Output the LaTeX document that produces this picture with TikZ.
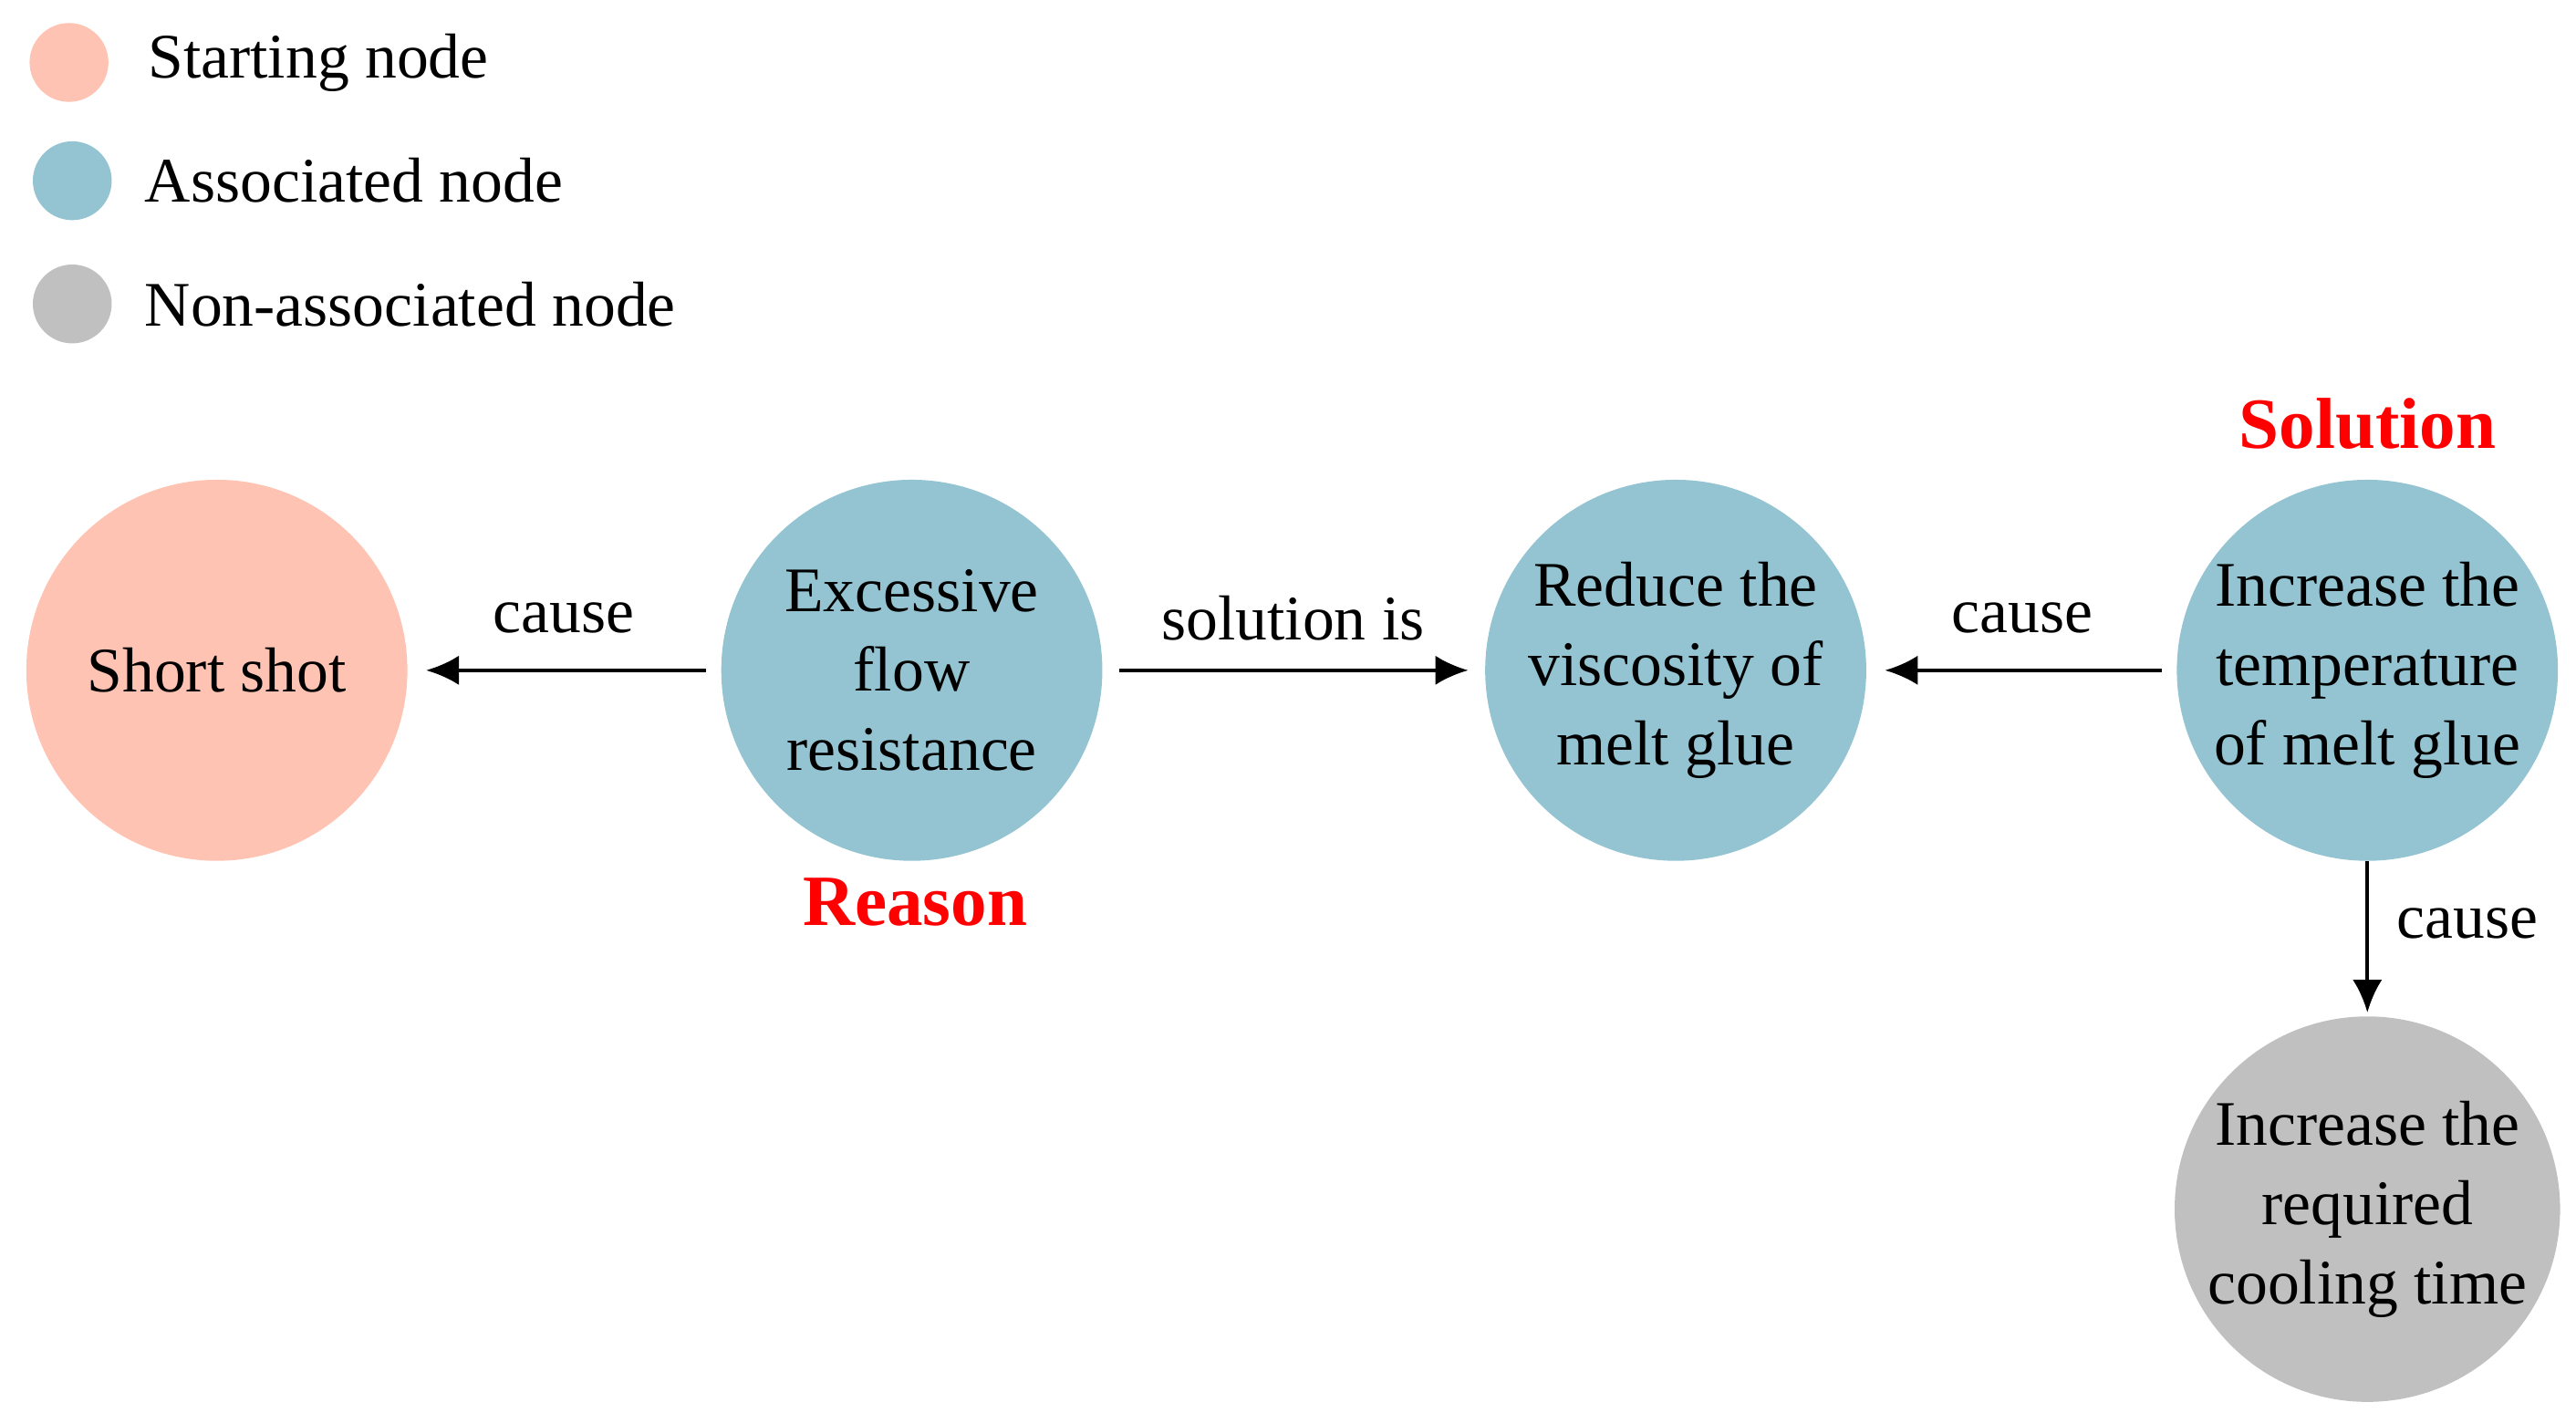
\documentclass[tikz,border=0pt]{standalone}
\usepackage{fontspec}
\setmainfont{Liberation Serif}
\usetikzlibrary{arrows.meta}
\definecolor{pinkc}{HTML}{FFC3B3}
\definecolor{bluec}{HTML}{94C4D2}
\definecolor{grayc}{HTML}{C0C0C0}
\begin{document}
\begin{tikzpicture}[x=0.02cm,y=-0.02cm,
  big/.style={circle,minimum size=4.64cm,inner sep=0pt,align=center,font=\fontsize{22}{27.5}\selectfont},
  leg/.style={circle,minimum size=0.96cm,inner sep=0pt},
  legt/.style={anchor=west,font=\fontsize{22}{27}\selectfont},
  lab/.style={font=\fontsize{22}{27}\selectfont},
  red/.style={text=red,font=\fontsize{25}{30}\selectfont\bfseries},
  arr/.style={-{Latex[length=0.4cm,width=0.36cm]},line width=1.3pt}]
\useasboundingbox (0,0) rectangle (1568,866);
\node[leg,fill=pinkc] (l1) at (42,38) {};
\node[leg,fill=bluec] (l2) at (44,110) {};
\node[leg,fill=grayc] (l3) at (44,185) {};
\node[legt] (t1) at (84,38) {Starting node};
\node[legt] (t2) at (82,110) {Associated node};
\node[legt] (t3) at (82,185) {Non-associated node};
\node[big,fill=pinkc] (a) at (132,408) {Short shot};
\node[big,fill=bluec] (b) at (555,408) {Excessive\\flow\\resistance};
\node[big,fill=bluec] (c) at (1020,408) {Reduce the\\viscosity of\\melt glue};
\node[big,fill=bluec] (d) at (1441,408) {Increase the\\temperature\\of melt glue};
\node[big,fill=grayc] (e) at (1441,736) {Increase the\\required\\cooling time};
\node[red] (r) at (557,549) {Reason};
\node[red] (s) at (1441,258) {Solution};
\draw[arr] ([xshift=-0.18cm]b.west) -- ([xshift=0.22cm]a.east);
\draw[arr] ([xshift=0.2cm]b.east) -- ([xshift=-0.2cm]c.west);
\draw[arr] ([xshift=-0.18cm]d.west) -- ([xshift=0.22cm]c.east);
\draw[arr] (d.south) -- ([yshift=0.04cm]e.north);
\node[lab] at (343,376) {cause};
\node[lab] at (787,376) {solution is};
\node[lab] at (1231,376) {cause};
\node[lab] at (1502,562) {cause};
\end{tikzpicture}
\end{document}
